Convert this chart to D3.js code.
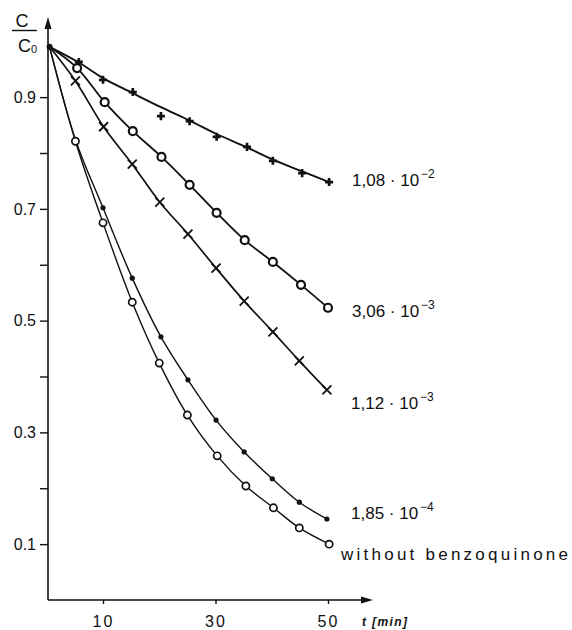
<!DOCTYPE html>
<html lang="en">
<head>
<meta charset="UTF-8">
<title>C/C0 versus time</title>
<script src="https://d3js.org/d3.v7.min.js"></script>
<style>
  body { margin: 0; background: #fff; }
  svg text { font-family: "Liberation Sans", Arial, sans-serif; fill: #111; }
</style>
</head>
<body>
<svg id="chart" width="572" height="630"></svg>
<script>
// values: t in min, C/C0
const origin = { t: 0.5, v: 0.99 };

const t108 = [5.7, 10, 15.3, 20.3, 25.4, 30.2, 35.6, 40.2, 45.4, 50.2];
const v108 = [0.963, 0.931, 0.909, 0.866, 0.857, 0.829, 0.811, 0.786, 0.764, 0.748];
// drawn curve for this series (it misses the 20 min point)
const fit108 = [0.962, 0.934, 0.907, 0.882, 0.858, 0.834, 0.810, 0.788, 0.767, 0.748];

const t306 = [5.4, 10.3, 15.3, 20.4, 25.4, 30.2, 35.2, 40.2, 45.2, 50];
const v306 = [0.952, 0.891, 0.839, 0.793, 0.743, 0.693, 0.644, 0.605, 0.564, 0.523];

const t112 = [5.1, 10.1, 15.2, 20.1, 25.1, 30.1, 35.1, 40.2, 44.9, 49.8];
const v112 = [0.929, 0.847, 0.780, 0.712, 0.655, 0.594, 0.535, 0.480, 0.428, 0.376];

const t185 = [5.2, 10, 15.2, 20.3, 25.1, 30.1, 35.1, 40.1, 44.9, 49.8];
const v185 = [0.821, 0.702, 0.576, 0.471, 0.394, 0.322, 0.265, 0.217, 0.175, 0.145];

const t0 = [5.1, 10, 15.2, 20, 25, 30.3, 35.4, 40.3, 44.9, 50.2];
const v0 = [0.821, 0.675, 0.533, 0.424, 0.331, 0.258, 0.204, 0.165, 0.129, 0.100];

const labels = [
  ["1,08 · 10", "−2"],
  ["3,06 · 10", "−3"],
  ["1,12 · 10", "−3"],
  ["1,85 · 10", "−4"],
  ["without benzoquinone", ""]
];

const yTicks = [0.1, 0.2, 0.3, 0.4, 0.5, 0.6, 0.7, 0.8, 0.9];
const yLabelled = ["0.1", "0.3", "0.5", "0.7", "0.9"];
const xTicks = [10, 30, 50];

const series = [
  { t: t108, v: v108, fit: fit108, marker: "plus", lw: 1.9, label: labels[0] },
  { t: t306, v: v306, fit: v306, marker: "ring", lw: 1.8, label: labels[1] },
  { t: t112, v: v112, fit: v112, marker: "cross", lw: 1.7, label: labels[2] },
  { t: t185, v: v185, fit: v185, marker: "dot", lw: 1.4, label: labels[3] },
  { t: t0, v: v0, fit: v0, marker: "open", lw: 1.4, label: labels[4] }
];

// label placement (layout only)
const labelPos = [
  { x: 352, y: 186 },
  { x: 352, y: 317 },
  { x: 351, y: 409 },
  { x: 351, y: 519 },
  { x: 341, y: 560 }
];

const svg = d3.select("#chart");
const x = d3.scaleLinear().domain([0, 50]).range([46.75, 328]);
const y = d3.scaleLinear().domain([0, 1]).range([600, 41.25]);
const x0 = 48, y0 = 600;

// axes
const yAxis = svg.append("g")
  .attr("transform", `translate(${x0},0)`)
  .call(d3.axisLeft(y).tickValues(yTicks).tickSize(8).tickPadding(4)
    .tickFormat(d => yLabelled.includes(d.toFixed(1)) ? d.toFixed(1) : ""));
yAxis.select(".domain").remove();
yAxis.selectAll(".tick line").attr("stroke", "#111").attr("stroke-width", 1.4);
yAxis.selectAll("text").style("font-size", "16px").attr("fill", "#111");

const xAxis = svg.append("g")
  .attr("transform", `translate(0,${y0})`)
  .call(d3.axisBottom(x).tickValues(xTicks).tickSize(4).tickPadding(12));
xAxis.select(".domain").remove();
xAxis.selectAll(".tick line").attr("stroke", "#111").attr("stroke-width", 1.4);
xAxis.selectAll("text").style("font-size", "16px").style("letter-spacing", "2px").attr("fill", "#111");

svg.append("line").attr("x1", x0).attr("y1", y0).attr("x2", x0).attr("y2", 26)
  .attr("stroke", "#111").attr("stroke-width", 1.6);
svg.append("path").attr("d", `M${x0},17 L${x0 - 3.5},29 L${x0 + 3.5},29 Z`).attr("fill", "#111");
svg.append("line").attr("x1", x0).attr("y1", y0).attr("x2", 364).attr("y2", y0)
  .attr("stroke", "#111").attr("stroke-width", 1.6);
svg.append("path").attr("d", `M373,${y0} L361,${y0 - 3.5} L361,${y0 + 3.5} Z`).attr("fill", "#111");

// axis titles
svg.append("text").attr("x", 22).attr("y", 27).attr("text-anchor", "middle")
  .style("font-size", "18px").text("C");
svg.append("line").attr("x1", 12).attr("x2", 37).attr("y1", 30.5).attr("y2", 30.5)
  .attr("stroke", "#111").attr("stroke-width", 1.4);
const cc = svg.append("text").attr("x", 18).attr("y", 52).style("font-size", "18px");
cc.append("tspan").text("C");
cc.append("tspan").attr("dy", 1).style("font-size", "11px").text("0");
svg.append("text").attr("x", 362).attr("y", 626)
  .style("font-size", "12px").style("font-style", "italic").style("font-weight", "bold")
  .attr("textLength", 45).attr("lengthAdjust", "spacing").text("t [min]");

// curves
const line = d3.line().x(d => x(d.t)).y(d => y(d.v)).curve(d3.curveCatmullRom.alpha(0.5));
series.forEach(s => {
  const pts = [origin].concat(s.t.map((t, i) => ({ t, v: s.fit[i] })));
  svg.append("path").datum(pts).attr("d", line)
    .attr("fill", "none").attr("stroke", "#111").attr("stroke-width", s.lw);
});

// markers
function drawMarker(g, kind, px, py) {
  if (kind === "plus") {
    g.append("path").attr("transform", `translate(${px},${py})`)
      .attr("d", d3.symbol(d3.symbolCross, 36)()).attr("fill", "#111");
  } else if (kind === "ring") {
    g.append("circle").attr("cx", px).attr("cy", py).attr("r", 4)
      .attr("fill", "#fff").attr("stroke", "#111").attr("stroke-width", 2.2);
  } else if (kind === "cross") {
    g.append("path")
      .attr("d", `M${px - 4.5},${py - 4.5}L${px + 4.5},${py + 4.5}M${px - 4.5},${py + 4.5}L${px + 4.5},${py - 4.5}`)
      .attr("stroke", "#111").attr("stroke-width", 1.8);
  } else if (kind === "dot") {
    g.append("circle").attr("cx", px).attr("cy", py).attr("r", 2.6).attr("fill", "#111");
  } else {
    g.append("circle").attr("cx", px).attr("cy", py).attr("r", 3.6)
      .attr("fill", "#fff").attr("stroke", "#111").attr("stroke-width", 1.7);
  }
}
const mg = svg.append("g");
series.forEach(s => {
  s.t.forEach((t, i) => drawMarker(mg, s.marker, x(t), y(s.v[i])));
});
mg.append("circle").attr("cx", x(origin.t)).attr("cy", y(origin.v)).attr("r", 3).attr("fill", "#111");

// curve labels
series.forEach((s, i) => {
  const p = labelPos[i];
  const txt = svg.append("text").attr("x", p.x).attr("y", p.y);
  if (s.label[1]) {
    txt.style("font-size", "17px");
    txt.append("tspan").text(s.label[0]);
    txt.append("tspan").attr("dx", 2).attr("dy", -8).style("font-size", "12px").text(s.label[1]);
  } else {
    txt.style("font-size", "17px").attr("textLength", 227).attr("lengthAdjust", "spacing").text(s.label[0]);
  }
});
</script>
</body>
</html>
